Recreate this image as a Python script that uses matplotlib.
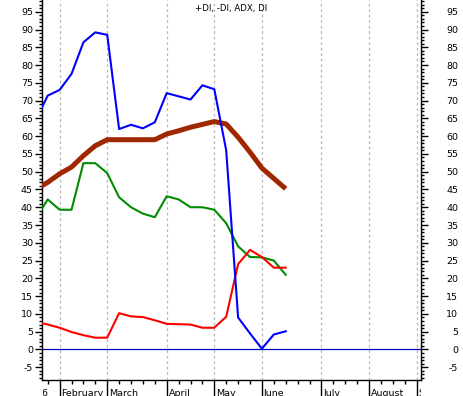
import matplotlib
matplotlib.use("Agg")
import matplotlib.pyplot as plt
import matplotlib.transforms as mtransforms
from matplotlib.ticker import MultipleLocator, FixedLocator

# ---- data (weekly index; week 0 = first full week shown) ----
weeks = list(range(-1, 21))
plus_di = [64.5, 71.4, 73.0, 77.5, 86.4, 89.2, 88.5, 62.0, 63.2, 62.2, 63.9,
           72.1, 71.2, 70.3, 74.3, 73.2, 56.0, 9.0, 4.5, 0.2, 4.2, 5.1]
minus_di = [7.8, 7.0, 6.1, 4.9, 4.0, 3.3, 3.3, 10.2, 9.3, 9.1, 8.2,
            7.2, 7.1, 7.0, 6.1, 6.1, 9.2, 24.0, 28.0, 26.0, 23.0, 23.0]
dx = [36.8, 42.2, 39.3, 39.3, 52.4, 52.4, 49.6, 42.8, 40.0, 38.2, 37.2,
      43.1, 42.2, 40.0, 40.0, 39.3, 35.5, 29.0, 26.0, 25.9, 25.0, 21.0]
adx = [45.1, 47.0, 49.4, 51.3, 54.5, 57.3, 59.0, 59.0, 59.0, 59.0, 59.0,
       60.6, 61.5, 62.5, 63.3, 64.1, 63.4, 59.7, 55.5, 51.0, 48.1, 45.2]

month_labels = ['2006', 'February', 'March', 'April', 'May', 'June',
                'July', 'August', 'September']
month_weeks = [-2.1, 1, 5, 10, 14, 18, 23, 27, 31]
week_ticks = list(range(0, 32))
title = '+DI, -DI, ADX, DI'

plt.rcParams['font.family'] = ['DejaVu Sans']
plt.rcParams['axes.unicode_minus'] = False
fs = 6.8

fig = plt.figure(figsize=(4.63, 3.96), dpi=100)
ax = fig.add_axes([42 / 463, 1 - 380 / 396, (421 - 42) / 463, 380 / 396])

ax.set_xlim(-0.48, 31.37)
ax.set_ylim(-8.6, 98.3)

# grid at month boundaries
for m in month_weeks[1:]:
    ax.axvline(m, color='#b8b8b8', lw=0.9, ls=(0, (2.2, 2.2)), zorder=1)

ax.axhline(0, color='#0000c0', lw=0.9, zorder=2)

ax.plot(weeks, adx, color='#a02800', lw=3.6, zorder=3, solid_capstyle='butt')
ax.plot(weeks, dx, color='#008c00', lw=1.5, zorder=4)
ax.plot(weeks, minus_di, color='#ff0000', lw=1.5, zorder=5)
ax.plot(weeks, plus_di, color='#0000ff', lw=1.5, zorder=6)

# spines
ax.spines['top'].set_visible(False)
for s in ['left', 'right', 'bottom']:
    ax.spines[s].set_linewidth(1.0)
    ax.spines[s].set_color('black')

# y ticks both sides
ax.set_yticks(list(range(-5, 100, 5)))
ax.yaxis.set_minor_locator(MultipleLocator(1))
ax.tick_params(axis='y', which='both', left=True, right=True,
               labelleft=True, labelright=True, direction='out',
               labelsize=fs, width=1.0)
ax.tick_params(axis='y', which='major', length=5, pad=1.5)
ax.tick_params(axis='y', which='minor', length=2.2)
off = mtransforms.ScaledTranslation(28 / 100, 0, fig.dpi_scale_trans)
for t in ax.yaxis.get_major_ticks():
    t.label2.set_horizontalalignment('right')
    t.label2.set_transform(t.label2.get_transform() + off)

# x ticks
ax.xaxis.set_major_locator(FixedLocator(month_weeks[1:]))
ax.xaxis.set_minor_locator(FixedLocator(week_ticks))
ax.tick_params(axis='x', which='major', length=11.5, width=1.0,
               direction='out', labelbottom=False)
ax.tick_params(axis='x', which='minor', length=2.9, width=1.0,
               direction='out')

# month labels, clipped to axes x-range
clip = mtransforms.TransformedBbox(
    mtransforms.Bbox([[43 / 463, 0], [421 / 463, 1]]), fig.transFigure)
base = mtransforms.blended_transform_factory(ax.transData, ax.transAxes)
lab_off = mtransforms.ScaledTranslation(2 / 100, -15.5 / 100, fig.dpi_scale_trans)
for lbl, w in zip(month_labels, month_weeks):
    t = ax.text(w, 0, lbl, transform=base + lab_off, ha='left', va='baseline',
                fontsize=fs)
    t.set_clip_on(True)
    t.set_clip_path(None)
    t.set_clip_box(clip)

ax.text(0.5, 1.0, title, transform=ax.transAxes + mtransforms.ScaledTranslation(
    0, -8 / 100, fig.dpi_scale_trans), ha='center', va='center', fontsize=6.2)

fig.savefig('out.png', dpi=100)
